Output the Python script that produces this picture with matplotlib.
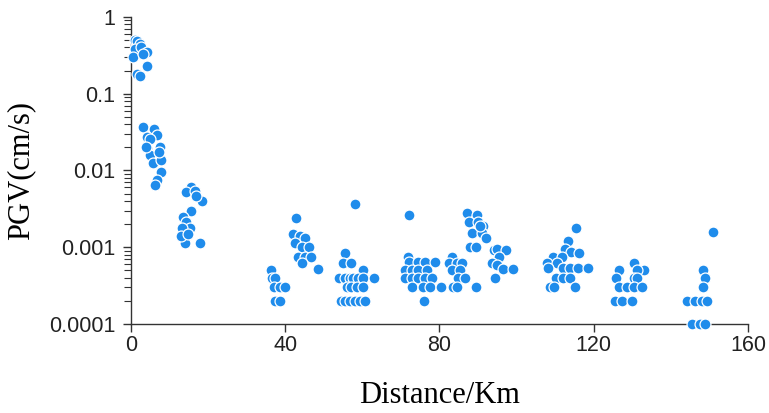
import matplotlib
matplotlib.use("Agg")
import matplotlib.pyplot as plt
from matplotlib.ticker import FixedLocator, LogLocator, NullFormatter

# Distance (km) and PGV (cm/s)
distance = [
    # near field
    1.2, 1.7, 2.3, 1.0, 2.6, 4.2, 0.6, 3.2, 4.2, 1.5, 2.3,
    3.2, 6.0, 4.1, 6.7, 5.1, 4.1, 7.5, 4.9, 5.8, 7.9, 7.9, 6.7, 6.2, 3.9, 7.3,
    15.7, 14.4, 16.6, 18.4, 17.0, 15.7, 13.6, 14.4, 15.3, 13.4, 14.0, 17.9, 13.1, 14.9,
    # ~40 km
    36.3, 36.6, 37.3, 37.0, 38.6, 40.0, 37.5, 38.6,
    42.8, 42.1, 43.8, 45.1, 42.5, 44.3, 46.2, 43.4, 45.1, 46.7, 44.3, 48.6,
    # ~58 km
    58.1, 55.5, 54.9, 57.2, 60.3, 54.0, 55.5, 56.8, 57.7, 59.0, 60.3, 63.0,
    56.0, 57.2, 58.5, 60.2, 54.4, 55.5, 56.8, 58.1, 59.4, 60.7,
    # ~75 km
    72.1, 71.9, 72.2, 74.5, 76.2, 78.8, 71.1, 72.8, 74.5, 76.7,
    71.1, 72.8, 74.5, 76.2, 78.0, 72.8, 75.8, 77.5, 80.3, 76.0,
    # ~85 km
    83.2, 82.5, 84.5, 85.8, 83.2, 85.3, 84.9, 86.6, 83.6, 84.5, 89.5,
    87.1, 89.6, 87.7, 90.1, 91.4, 88.3, 90.9, 92.1, 87.9, 89.5, 90.5,
    94.0, 94.8, 97.2, 95.3, 93.5, 94.8, 96.4, 99.0, 94.4,
    # ~112 km
    115.3, 113.4, 112.4, 114.1, 116.2, 109.5, 111.7, 107.8, 110.4, 108.2,
    112.1, 113.8, 115.8, 118.6, 110.1, 112.1, 113.8, 108.7, 109.8, 115.0,
    # ~128 km
    130.3, 126.4, 132.9, 131.1, 125.7, 130.3, 131.1, 126.4, 128.5, 130.3, 132.6,
    125.5, 127.3, 129.8,
    # ~148 km
    150.8, 148.2, 148.9, 148.4, 144.1, 146.3, 148.0, 149.3, 145.4, 147.6, 148.9,
]
pgv = [
    0.50, 0.48, 0.45, 0.38, 0.40, 0.35, 0.30, 0.33, 0.23, 0.18, 0.17,
    0.037, 0.035, 0.027, 0.029, 0.026, 0.0195, 0.020, 0.016, 0.0124, 0.0137, 0.0096, 0.0075, 0.0065, 0.020, 0.0175,
    0.0061, 0.0053, 0.0054, 0.0040, 0.0046, 0.0030, 0.0025, 0.0021, 0.00177, 0.00177, 0.00112, 0.00115, 0.0014, 0.0015,
    0.0005, 0.0004, 0.0004, 0.0003, 0.0003, 0.0003, 0.0002, 0.0002,
    0.0024, 0.00147, 0.00138, 0.0013, 0.00115, 0.00101, 0.0010, 0.00075, 0.00074, 0.00074, 0.00062, 0.00052,
    0.0037, 0.00083, 0.00063, 0.00063, 0.0005, 0.0004, 0.0004, 0.0004, 0.0004, 0.0004, 0.0004, 0.0004,
    0.0003, 0.0003, 0.0003, 0.0003, 0.0002, 0.0002, 0.0002, 0.0002, 0.0002, 0.0002,
    0.0026, 0.00075, 0.00064, 0.00064, 0.00064, 0.00064, 0.0005, 0.0005, 0.0005, 0.0005,
    0.0004, 0.0004, 0.0004, 0.0004, 0.0004, 0.0003, 0.0003, 0.0003, 0.0003, 0.0002,
    0.00075, 0.00063, 0.00063, 0.00063, 0.0005, 0.0005, 0.0004, 0.0004, 0.0003, 0.0003, 0.0003,
    0.0028, 0.0026, 0.0021, 0.0021, 0.0019, 0.00152, 0.00152, 0.00131, 0.00102, 0.00102, 0.0019,
    0.00092, 0.00095, 0.00092, 0.00075, 0.00063, 0.00058, 0.00052, 0.00052, 0.0004,
    0.00177, 0.0012, 0.00094, 0.00087, 0.00083, 0.00074, 0.00074, 0.00063, 0.00063, 0.00053,
    0.00053, 0.00053, 0.00053, 0.00053, 0.0004, 0.0004, 0.0004, 0.0003, 0.0003, 0.0003,
    0.00063, 0.0005, 0.0005, 0.0005, 0.0004, 0.0004, 0.0004, 0.0003, 0.0003, 0.0003, 0.0003,
    0.0002, 0.0002, 0.0002,
    0.00157, 0.0005, 0.0004, 0.0003, 0.0002, 0.0002, 0.0002, 0.0002, 0.0001, 0.0001, 0.0001,
]

x_ticks = [0, 40, 80, 120, 160]
y_ticks = [0.0001, 0.001, 0.01, 0.1, 1]
y_tick_labels = ["0.0001", "0.001", "0.01", "0.1", "1"]

fig = plt.figure(figsize=(7.69, 4.13), dpi=100)
ax = fig.add_axes([0.170, 0.2155, 0.803, 0.7435])

ax.scatter(distance, pgv, s=62, color="#1f8ceb", edgecolors="white",
           linewidths=0.9, clip_on=False, zorder=3)

ax.set_yscale("log")
ax.set_xlim(0, 160)
ax.set_ylim(0.0001, 1)

ax.xaxis.set_major_locator(FixedLocator(x_ticks))
ax.set_xticklabels([str(t) for t in x_ticks])
ax.yaxis.set_major_locator(FixedLocator(y_ticks))
ax.set_yticklabels(y_tick_labels)
ax.yaxis.set_minor_locator(LogLocator(base=10, subs=range(2, 10)))
ax.yaxis.set_minor_formatter(NullFormatter())

for s in ["top", "right"]:
    ax.spines[s].set_visible(False)
for s in ["left", "bottom"]:
    ax.spines[s].set_linewidth(1.0)
    ax.spines[s].set_color("#333333")

ax.tick_params(axis="both", which="major", direction="out", length=6,
               width=1.0, color="#333333", labelsize=15.5)
ax.tick_params(axis="x", which="major", pad=2)
ax.tick_params(axis="y", which="major", pad=5)
ax.tick_params(axis="y", which="minor", direction="out", length=5,
               width=0.8, color="#333333")
for lab in ax.get_xticklabels() + ax.get_yticklabels():
    lab.set_fontfamily("Liberation Sans")
    lab.set_color("#222222")

ax.set_xlabel("Distance/Km", fontfamily="Liberation Serif", fontsize=22, labelpad=18)
ax.set_ylabel("PGV(cm/s)", fontfamily="Liberation Serif", fontsize=22, labelpad=10)

fig.savefig("out.png", dpi=100)
